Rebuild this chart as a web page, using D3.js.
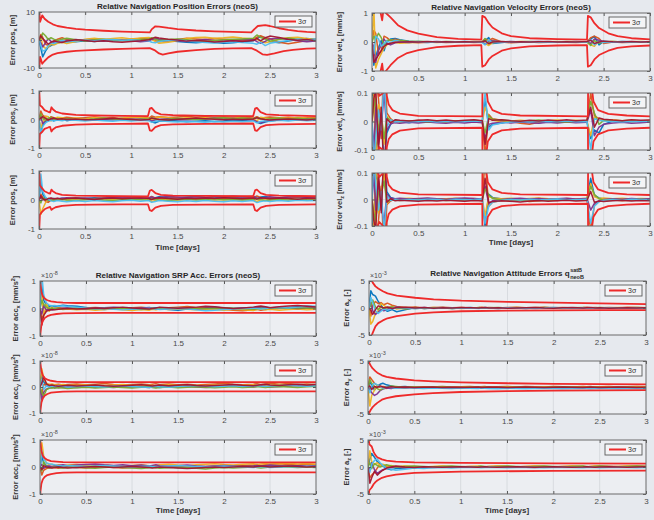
<!DOCTYPE html>
<html><head><meta charset="utf-8">
<script src="https://cdn.jsdelivr.net/npm/d3@7"></script>
<style>
html,body{margin:0;padding:0;background:#e6e9ee;}
svg{display:block;font-family:"Liberation Sans",Arial,sans-serif;}
</style></head><body>
<svg id="chart" width="654" height="520"></svg>
<script>
// ---------------- DATA ----------------
const xTicks = [0, 0.5, 1, 1.5, 2, 2.5, 3];
const tRun = [0,0.02,0.04,0.07,0.1,0.13,0.16,0.2,0.25,0.3,0.4,0.5,0.6,0.7,0.8,0.9,1.0,1.1,1.19,1.22,1.26,1.3,1.4,1.5,1.6,1.7,1.8,1.9,2.0,2.1,2.2,2.32,2.36,2.4,2.45,2.5,2.6,2.7,2.8,2.9,3.0];

const yTicksPosX = [-10, 0, 10];
const yTicksPos = [-1, 0, 1];
const yTicksVelX = [-1, 0, 1];
const yTicksVel = [-0.1, 0, 0.1];
const yTicksAcc = [-1, 0, 1];
const yTicksAtt = [-5, 0, 5];

// Position x [m]
const posX_runs = [
[0,-3,-6,-4,-2.5,-2,-1.5,-1,-0.8,-0.5,-0.6,-0.3,-0.5,-0.2,-0.4,-0.1,0.2,0.3,0.1,0.4,0.6,0.2,-0.2,-0.5,-0.8,-1.0,-0.7,-0.9,-1.2,-1.0,-0.6,-0.3,0.5,1.2,0.8,-0.5,-1.0,-0.4,0.2,0.5,0.3],
[0,2,1,-1.5,-2,-1.2,-0.5,0.3,0.8,0.2,-0.3,0.1,0.4,0.2,-0.2,0.1,0.3,0.5,0.6,0.3,-0.3,-0.6,-0.4,0.2,0.6,0.4,0.2,0.5,0.3,0.1,-0.2,0.2,1.0,1.5,0.8,0.5,-0.8,-1.3,-0.8,-0.2,0.1],
[0,1,-2,-3,-2.5,-1.5,-1.8,-1.2,-0.8,-1.3,-0.5,0.3,0.6,0.2,0.5,0.8,0.4,0.7,0.9,0.2,-0.5,-1.2,-0.8,-0.3,0.5,0.9,1.0,0.6,0.8,1.1,0.7,0.4,0.2,-0.4,-1.0,-0.6,0.4,0.8,1.0,0.5,0.2],
[0,-1,-2.5,-1,0.5,-0.5,-0.8,-0.4,-0.6,-0.2,0.2,-0.3,-0.1,-0.4,0.1,-0.2,-0.3,-0.6,-0.4,0.2,0.5,0.3,0.1,-0.3,-0.5,-0.2,0.2,-0.2,-0.4,-0.2,0.1,0.3,-0.6,-1.2,-0.5,0.4,0.6,0.2,-0.3,-0.6,-0.4],
[0,0.5,2.5,1.5,0.2,0.8,0.3,-0.2,0.3,0.6,0.1,-0.4,0.1,0.3,0.0,-0.3,-0.1,0.2,0.4,0.8,0.3,-0.2,0.2,0.4,0.1,-0.3,-0.5,-0.2,0.1,0.3,0.4,0.6,1.8,0.9,0.3,-0.4,0.2,0.7,0.3,0.0,-0.2],
[0,-2,-4,-3.5,-2,-1,-1.3,-0.8,-0.2,-0.6,-0.4,0.0,-0.3,0.1,0.2,-0.1,0.1,-0.2,-0.3,-0.8,-1.0,-0.5,-0.2,0.0,-0.3,-0.6,-0.9,-1.1,-0.8,-0.6,-0.9,-1.2,-1.5,-0.8,-2.0,-1.2,-0.6,-0.2,0.3,-0.1,0.4],
[0,1.5,0.5,-0.5,-1.5,-0.8,-0.3,-0.6,-0.9,-0.4,0.1,-0.2,-0.5,-0.3,-0.6,-0.8,-0.5,-0.3,0.1,0.5,1.0,0.7,0.3,0.0,-0.4,-0.2,-0.4,-0.7,-0.5,-0.3,-0.5,-0.2,0.6,-0.3,0.8,1.4,0.9,0.3,-0.1,0.2,-0.3]
];
const posX_sigUp = [[0,12],[0.012,6.5],[0.035,8.8],[0.06,7.6],[0.1,6.5],[0.15,5.6],[0.2,5.0],[0.3,4.4],[0.4,4.0],[0.5,3.7],[0.7,3.3],[0.9,3.0],[1.1,2.8],[1.2,2.7],[1.22,3.8],[1.26,4.9],[1.3,4.8],[1.4,4.3],[1.5,3.9],[1.7,3.4],[1.9,3.1],[2.1,2.9],[2.3,2.7],[2.33,3.8],[2.37,5.0],[2.45,5.3],[2.5,5.0],[2.6,4.2],[2.7,3.6],[2.8,3.2],[2.9,2.9],[3.0,2.7]];
const posX_sigLo = [[0,-12],[0.012,-6],[0.035,-8.5],[0.06,-7.5],[0.1,-6.2],[0.15,-5.2],[0.2,-4.7],[0.3,-4.2],[0.4,-3.9],[0.5,-3.7],[0.7,-3.4],[0.9,-3.2],[1.1,-3.0],[1.2,-2.9],[1.25,-3.6],[1.3,-4.8],[1.34,-5.2],[1.4,-4.8],[1.5,-4.2],[1.7,-3.6],[1.9,-3.2],[2.1,-3.0],[2.3,-2.9],[2.36,-3.8],[2.42,-5.1],[2.47,-5.3],[2.55,-4.8],[2.65,-4.0],[2.75,-3.5],[2.9,-3.1],[3.0,-3.0]];

// Position y [m]
const posY_runs = [
[0,-0.45,-0.2,-0.1,0.05,0.02,-0.05,0.03,0.0,-0.04,0.02,0.05,0.01,-0.03,0.0,0.04,0.02,-0.02,0.0,-0.08,-0.12,-0.06,-0.03,-0.05,-0.08,-0.06,-0.04,-0.07,-0.05,-0.02,-0.04,0.0,-0.1,-0.14,-0.09,-0.05,-0.02,0.0,0.03,0.01,0.02],
[0,0.3,0.15,0.08,-0.05,0.1,0.06,0.02,0.05,0.08,0.04,0.06,0.09,0.05,0.07,0.03,0.06,0.08,0.05,0.12,0.08,0.1,0.07,0.09,0.11,0.08,0.1,0.07,0.09,0.06,0.08,0.05,0.1,0.04,0.07,0.09,0.06,0.08,0.05,0.07,0.06],
[0,-0.3,-0.1,0.12,0.1,-0.05,0.03,0.08,0.06,0.02,0.05,0.03,0.07,0.04,0.02,0.05,0.08,0.06,0.04,0.0,0.05,0.09,0.06,0.03,0.06,0.04,0.07,0.05,0.03,0.06,0.04,0.02,-0.05,0.08,0.05,0.03,0.06,0.04,0.07,0.05,0.04],
[0,0.1,-0.15,-0.05,0.0,-0.02,0.02,-0.03,-0.01,0.01,-0.02,0.0,-0.03,0.01,-0.01,-0.03,0.0,0.02,-0.01,-0.05,-0.02,0.01,0.03,0.0,-0.02,0.01,0.03,0.05,0.02,0.04,0.01,-0.02,-0.08,-0.12,-0.06,-0.03,0.0,-0.02,0.01,0.03,0.0],
[0,0.2,0.05,-0.03,0.04,0.08,0.0,0.04,-0.02,0.03,0.0,-0.02,0.02,0.05,0.02,0.0,-0.02,0.01,0.03,0.06,0.02,-0.01,0.01,0.04,0.02,0.0,0.02,0.04,0.06,0.03,0.05,0.03,0.07,0.02,0.0,0.03,0.05,0.02,0.04,0.02,0.03],
[0,-0.5,-0.25,-0.12,-0.06,-0.03,-0.05,-0.02,-0.04,-0.01,-0.03,-0.05,-0.02,-0.04,-0.06,-0.03,-0.05,-0.03,-0.04,-0.1,-0.06,-0.04,-0.07,-0.09,-0.06,-0.08,-0.1,-0.07,-0.09,-0.06,-0.08,-0.05,-0.12,-0.07,-0.04,-0.06,-0.03,-0.05,-0.02,-0.04,-0.03],
[0,0.05,0.1,0.04,-0.02,0.03,0.05,0.01,0.03,0.0,0.02,-0.01,0.0,0.02,0.04,0.02,0.0,-0.02,0.0,0.05,0.03,0.0,-0.02,0.01,0.03,0.05,0.03,0.01,-0.01,0.01,0.0,0.02,0.06,0.03,0.0,-0.02,0.0,0.02,0.0,-0.02,0.01]
];
const posY_sigUp = [[0,1.2],[0.01,0.5],[0.03,0.45],[0.06,0.33],[0.1,0.27],[0.12,0.25],[0.135,0.43],[0.15,0.36],[0.18,0.28],[0.25,0.21],[0.4,0.16],[0.6,0.14],[0.9,0.13],[1.18,0.12],[1.2,0.38],[1.22,0.41],[1.26,0.26],[1.32,0.18],[1.45,0.15],[1.8,0.13],[2.32,0.12],[2.34,0.38],[2.36,0.41],[2.4,0.26],[2.46,0.18],[2.6,0.15],[3.0,0.12]];
const posY_sigLo = [[0,-1.2],[0.01,-0.5],[0.03,-0.45],[0.06,-0.33],[0.1,-0.28],[0.12,-0.26],[0.135,-0.42],[0.15,-0.35],[0.18,-0.28],[0.25,-0.22],[0.4,-0.18],[0.6,-0.16],[0.9,-0.15],[1.18,-0.14],[1.2,-0.38],[1.22,-0.4],[1.26,-0.27],[1.32,-0.2],[1.45,-0.17],[1.8,-0.15],[2.32,-0.14],[2.34,-0.38],[2.36,-0.4],[2.4,-0.27],[2.46,-0.2],[2.6,-0.17],[3.0,-0.15]];

// Position z [m]
const posZ_runs = [
[0,0.6,0.2,0.05,-0.03,0.02,0.05,0.03,0.06,0.04,0.07,0.05,0.08,0.06,0.09,0.07,0.1,0.08,0.06,0.03,0.08,0.11,0.09,0.07,0.1,0.12,0.09,0.07,0.1,0.08,0.11,0.09,0.04,0.1,0.12,0.09,0.07,0.1,0.08,0.11,0.09],
[0,0.2,0.1,-0.05,-0.08,0.0,0.03,0.05,0.02,0.04,0.06,0.03,0.05,0.07,0.04,0.06,0.08,0.05,0.07,0.12,0.06,0.04,0.06,0.08,0.05,0.07,0.09,0.06,0.04,0.07,0.05,0.08,0.14,0.09,0.06,0.08,0.05,0.07,0.1,0.08,0.1],
[0,-0.5,-0.3,-0.1,0.05,0.03,0.0,0.02,0.04,0.01,0.03,0.05,0.02,0.0,0.03,0.05,0.02,0.04,0.02,-0.05,-0.02,0.01,0.03,0.0,0.02,0.04,0.01,-0.01,0.02,0.0,0.02,0.0,-0.06,0.02,0.04,0.01,0.03,0.05,0.02,0.0,0.02],
[0,0.1,0.0,0.06,0.03,0.05,0.02,0.04,0.06,0.08,0.05,0.07,0.04,0.06,0.08,0.1,0.07,0.05,0.08,0.1,0.07,0.09,0.12,0.1,0.08,0.11,0.09,0.12,0.1,0.13,0.1,0.12,0.08,0.05,0.09,0.11,0.08,0.1,0.12,0.09,0.11],
[0,-0.1,0.08,0.04,0.0,-0.02,0.01,-0.01,0.02,0.0,-0.02,0.01,0.03,0.0,-0.02,0.01,0.03,0.01,-0.01,0.04,0.02,0.0,-0.02,0.01,0.03,0.0,0.02,0.04,0.01,0.03,0.0,0.02,0.05,0.01,-0.02,0.0,0.02,0.0,0.03,0.01,0.0],
[0,0.9,0.3,0.1,0.02,-0.03,-0.05,-0.02,-0.04,-0.06,-0.03,-0.05,-0.02,-0.04,-0.06,-0.03,-0.01,-0.04,-0.02,-0.08,-0.05,-0.02,-0.04,-0.06,-0.03,-0.05,-0.02,-0.04,-0.06,-0.03,-0.05,-0.02,-0.09,-0.05,-0.03,-0.05,-0.02,-0.04,-0.01,-0.03,-0.02],
[0,0.15,0.05,0.0,0.05,0.07,0.04,0.06,0.03,0.05,0.07,0.04,0.02,0.05,0.07,0.04,0.06,0.08,0.05,0.02,0.06,0.08,0.05,0.03,0.06,0.04,0.07,0.05,0.08,0.06,0.04,0.07,0.03,0.08,0.06,0.04,0.07,0.05,0.03,0.06,0.05]
];
const posZ_sigUp = [[0,1.2],[0.01,0.5],[0.03,0.42],[0.06,0.3],[0.1,0.24],[0.12,0.22],[0.135,0.36],[0.15,0.3],[0.18,0.24],[0.25,0.18],[0.4,0.15],[0.6,0.14],[0.9,0.13],[1.18,0.12],[1.2,0.32],[1.22,0.35],[1.26,0.24],[1.32,0.18],[1.45,0.15],[1.8,0.14],[2.32,0.13],[2.34,0.33],[2.36,0.36],[2.4,0.24],[2.46,0.18],[2.6,0.15],[3.0,0.13]];
const posZ_sigLo = [[0,-1.2],[0.01,-0.5],[0.03,-0.42],[0.06,-0.32],[0.1,-0.26],[0.12,-0.24],[0.135,-0.34],[0.15,-0.3],[0.18,-0.25],[0.25,-0.2],[0.4,-0.17],[0.6,-0.16],[0.9,-0.15],[1.18,-0.15],[1.2,-0.35],[1.22,-0.38],[1.26,-0.26],[1.32,-0.2],[1.45,-0.17],[1.8,-0.16],[2.32,-0.15],[2.34,-0.35],[2.36,-0.38],[2.4,-0.26],[2.46,-0.2],[2.6,-0.17],[3.0,-0.15]];

// Velocity x [mm/s]
const velX_runs = [
[0,-0.8,-0.5,-0.2,0.05,-0.3,0.0,0.1,0.12,0.08,0.03,0.0,-0.02,0.01,-0.01,0.0,0.02,0.0,-0.01,0.05,0.15,-0.05,-0.02,0.01,0.0,-0.01,0.01,0.0,-0.01,0.01,0.0,-0.01,0.1,0.2,-0.1,0.03,0.0,0.02,0.01,0.0,0.01],
[0,0.4,0.3,-0.4,-0.3,0.2,0.15,0.05,0.1,0.05,0.0,-0.03,-0.01,0.0,-0.02,-0.01,0.0,-0.02,-0.01,0.1,0.05,0.12,0.0,-0.03,-0.01,0.0,-0.02,-0.01,0.0,-0.01,-0.02,0.0,0.15,0.2,0.12,-0.05,0.0,-0.02,-0.01,0.0,-0.01],
[0,1.2,-0.9,-0.6,-0.4,-0.2,-0.1,-0.05,-0.02,-0.04,-0.03,-0.01,0.0,-0.02,0.0,-0.01,0.0,0.01,0.0,-0.05,-0.12,-0.03,0.01,0.0,0.02,0.01,0.0,0.01,0.02,0.0,0.01,0.0,-0.1,-0.15,0.05,0.0,0.02,0.0,0.01,0.02,0.0],
[0,-0.2,-0.7,-0.3,-0.1,0.1,-0.05,-0.1,-0.03,0.0,-0.02,0.01,0.0,0.02,0.0,0.01,-0.01,0.0,0.01,-0.08,0.03,0.05,0.0,0.02,0.0,0.01,0.02,0.0,0.01,0.0,0.02,0.0,-0.05,0.1,0.06,0.02,0.0,0.01,-0.01,0.0,0.0],
[0,0.2,0.1,0.3,0.15,-0.1,0.05,0.08,0.04,0.06,0.02,0.03,0.01,0.0,0.02,0.01,0.0,0.02,0.01,0.12,-0.05,0.02,0.01,0.0,0.01,0.02,0.0,0.01,0.0,0.02,0.01,0.0,-0.12,0.05,-0.04,0.01,0.02,0.0,0.01,0.0,0.01],
[0,-0.4,0.2,0.1,-0.15,-0.05,0.03,-0.02,0.06,0.02,0.0,0.02,0.0,-0.01,0.01,0.0,-0.01,0.0,-0.02,-0.1,0.08,-0.02,0.0,-0.01,0.0,0.01,-0.01,0.0,-0.01,0.0,-0.01,0.0,0.08,-0.1,0.02,-0.02,0.0,-0.01,0.0,0.01,0.0],
[0,-0.7,-0.6,-0.45,-0.3,-0.15,-0.08,-0.04,-0.01,0.0,0.01,0.0,0.02,0.0,0.01,0.0,0.01,0.0,0.01,0.04,-0.06,0.0,0.02,0.0,0.01,0.0,0.01,0.02,0.0,0.01,0.0,0.02,0.06,-0.05,0.0,0.03,0.01,0.0,0.02,0.0,0.01]
];
const velX_sigUp = [[0,3],[0.09,1.05],[0.11,0.75],[0.13,1.3],[0.15,1.0],[0.2,0.85],[0.28,0.58],[0.38,0.4],[0.5,0.29],[0.7,0.17],[0.93,0.11],[1.18,0.08],[1.19,0.9],[1.22,0.85],[1.26,0.65],[1.3,0.5],[1.4,0.3],[1.5,0.2],[1.7,0.13],[2.0,0.1],[2.32,0.08],[2.33,0.9],[2.36,0.85],[2.4,0.65],[2.45,0.48],[2.55,0.3],[2.65,0.2],[2.8,0.13],[3.0,0.09]];
const velX_sigLo = [[0,-3],[0.09,-1.05],[0.11,-0.75],[0.13,-1.3],[0.15,-1.0],[0.2,-0.8],[0.28,-0.55],[0.38,-0.38],[0.5,-0.28],[0.7,-0.18],[0.93,-0.13],[1.18,-0.11],[1.19,-0.85],[1.22,-0.8],[1.26,-0.6],[1.3,-0.48],[1.4,-0.3],[1.5,-0.22],[1.7,-0.15],[2.0,-0.12],[2.32,-0.11],[2.33,-0.85],[2.36,-0.8],[2.4,-0.6],[2.45,-0.45],[2.55,-0.3],[2.65,-0.2],[2.8,-0.15],[3.0,-0.12]];

// Velocity y [mm/s]
const velY_runs = [
[0,0.2,-0.1,-0.05,0.03,-0.15,-0.04,-0.01,0.005,0.0,-0.004,0.002,-0.003,0.001,-0.002,0.003,0.0,-0.003,0.002,0.08,-0.02,-0.01,-0.005,0.002,-0.003,0.001,-0.004,0.0,-0.002,0.003,0.0,-0.002,-0.06,-0.03,-0.04,-0.01,0.002,-0.003,0.0,0.002,-0.001],
[0,-0.3,0.15,0.08,-0.06,0.25,0.03,0.01,-0.004,0.003,0.0,0.004,0.001,-0.002,0.003,0.0,0.002,-0.001,0.0,-0.12,0.025,0.01,0.004,0.0,-0.006,-0.01,-0.003,0.002,0.0,0.003,0.001,0.0,0.1,0.02,0.01,0.005,0.002,0.0,0.003,0.001,0.002],
[0,0.12,-0.2,0.06,0.04,-0.08,0.02,-0.006,0.003,-0.002,0.002,-0.001,0.003,0.0,-0.002,0.001,0.003,0.0,-0.002,0.05,0.015,0.005,-0.002,0.002,0.004,0.002,0.0,0.003,0.005,0.002,0.004,0.001,-0.05,0.015,0.008,0.004,0.006,0.003,0.005,0.002,0.004],
[0,-0.1,0.05,-0.08,-0.02,0.1,-0.03,-0.008,-0.004,-0.006,-0.003,-0.005,-0.002,-0.004,-0.006,-0.003,-0.005,-0.002,-0.004,-0.06,-0.01,-0.006,-0.003,-0.005,-0.002,-0.004,-0.006,-0.003,-0.005,-0.002,-0.004,-0.003,0.04,-0.05,-0.02,-0.01,-0.005,-0.003,-0.006,-0.004,-0.002],
[0,0.05,0.08,-0.03,0.02,-0.06,0.015,0.004,0.002,0.0,0.003,0.001,-0.001,0.002,0.0,0.003,0.001,0.004,0.002,-0.04,0.02,0.008,0.004,0.002,0.0,0.003,0.005,0.002,0.0,-0.002,0.001,0.003,0.07,0.03,-0.01,0.004,0.001,0.003,0.0,0.002,0.001],
[0,-0.15,-0.06,0.04,-0.03,0.15,-0.02,0.006,-0.002,0.001,-0.001,0.0,0.002,-0.002,0.001,-0.001,0.0,0.002,0.0,0.1,-0.03,-0.012,-0.005,-0.002,0.0,-0.002,0.001,-0.001,0.0,0.002,-0.001,0.0,-0.1,0.01,0.005,0.002,0.0,-0.002,0.001,0.0,0.001],
[0,0.08,0.12,-0.1,0.05,-0.2,0.01,-0.004,0.006,0.004,0.002,0.004,0.006,0.003,0.005,0.002,0.004,0.006,0.003,-0.08,0.01,0.004,0.006,0.003,0.001,0.004,0.002,0.005,0.003,0.006,0.003,0.005,0.05,-0.02,0.012,0.008,0.005,0.003,0.006,0.004,0.005]
];
const velY_sigUp = [[0,1],[0.02,0.2],[0.05,0.12],[0.08,0.09],[0.12,0.1],[0.13,0.5],[0.14,0.2],[0.16,0.09],[0.18,0.06],[0.22,0.04],[0.3,0.028],[0.5,0.02],[1.19,0.018],[1.2,0.5],[1.22,0.15],[1.25,0.07],[1.3,0.04],[1.4,0.027],[1.6,0.021],[2.33,0.018],[2.34,0.5],[2.36,0.15],[2.39,0.07],[2.44,0.04],[2.55,0.027],[2.75,0.021],[3.0,0.018]];
const velY_sigLo = [[0,-1],[0.02,-0.2],[0.05,-0.12],[0.08,-0.09],[0.12,-0.1],[0.13,-0.5],[0.14,-0.2],[0.16,-0.09],[0.18,-0.062],[0.22,-0.045],[0.3,-0.032],[0.5,-0.024],[1.19,-0.022],[1.2,-0.5],[1.22,-0.15],[1.25,-0.07],[1.3,-0.045],[1.4,-0.031],[1.6,-0.025],[2.33,-0.022],[2.34,-0.5],[2.36,-0.15],[2.39,-0.07],[2.44,-0.045],[2.55,-0.031],[2.75,-0.025],[3.0,-0.022]];

// Velocity z [mm/s]
const velZ_runs = [
[0,-0.25,0.1,0.06,-0.04,0.18,0.03,0.008,0.002,-0.003,0.001,-0.002,0.0,0.003,0.001,-0.001,0.002,0.0,0.001,-0.1,0.02,0.008,0.002,-0.001,0.001,0.003,0.0,0.002,-0.001,0.001,0.0,0.002,0.08,0.015,0.006,0.002,0.0,0.003,0.001,0.0,0.002],
[0,0.3,-0.15,-0.08,0.05,-0.22,-0.02,-0.006,0.003,0.0,-0.002,0.001,-0.003,-0.001,0.001,-0.002,-0.004,-0.002,0.0,0.15,-0.025,-0.01,-0.004,-0.006,-0.003,-0.008,-0.005,-0.002,-0.004,-0.001,-0.003,0.0,-0.12,-0.02,-0.008,-0.004,-0.002,-0.005,-0.003,-0.001,-0.003],
[0,-0.1,0.2,-0.05,0.03,0.1,-0.015,0.004,0.0,0.003,0.005,0.002,0.004,0.001,0.003,0.005,0.002,0.004,0.001,-0.06,0.012,0.006,0.003,0.005,0.002,0.004,0.006,0.003,0.001,0.004,0.002,0.005,0.06,0.01,0.004,0.006,0.003,0.005,0.002,0.004,0.003],
[0,0.1,-0.04,0.07,-0.02,-0.09,0.02,0.006,0.003,0.005,0.002,0.004,0.006,0.003,0.001,0.004,0.006,0.004,0.002,0.05,-0.015,-0.005,0.0,0.003,0.005,0.002,0.004,0.001,0.003,0.005,0.002,0.004,-0.04,-0.015,-0.005,0.0,0.003,0.001,0.004,0.002,0.003],
[0,-0.05,-0.08,0.03,0.02,0.07,-0.01,-0.003,-0.001,-0.004,-0.002,0.0,-0.003,-0.001,-0.004,-0.002,0.0,-0.003,-0.001,0.04,0.018,0.004,-0.002,0.0,-0.003,-0.001,-0.004,-0.002,0.0,-0.003,-0.001,-0.003,0.05,0.02,0.003,-0.002,0.0,-0.003,-0.001,0.001,-0.002],
[0,0.15,0.06,-0.04,0.03,-0.12,0.015,-0.004,0.001,-0.001,0.0,-0.002,0.001,0.0,-0.002,0.001,-0.001,0.0,0.002,-0.09,-0.025,-0.01,-0.003,0.0,-0.002,0.001,-0.001,0.0,0.002,0.0,-0.001,0.001,-0.09,-0.025,-0.008,-0.003,0.0,-0.002,0.001,0.0,-0.001],
[0,-0.08,-0.12,0.1,-0.05,0.2,-0.01,0.003,-0.005,-0.003,-0.005,-0.007,-0.004,-0.006,-0.003,-0.005,-0.007,-0.004,-0.006,0.08,-0.012,-0.008,-0.005,-0.007,-0.009,-0.006,-0.004,-0.007,-0.005,-0.003,-0.006,-0.004,0.03,-0.01,-0.006,-0.008,-0.005,-0.003,-0.006,-0.004,-0.005]
];
const velZ_sigUp = [[0,1],[0.02,0.2],[0.05,0.11],[0.08,0.085],[0.12,0.1],[0.13,0.5],[0.14,0.2],[0.16,0.085],[0.18,0.055],[0.22,0.038],[0.3,0.026],[0.5,0.019],[1.19,0.017],[1.2,0.5],[1.22,0.14],[1.25,0.065],[1.3,0.038],[1.4,0.025],[1.6,0.019],[2.33,0.017],[2.34,0.5],[2.36,0.14],[2.39,0.065],[2.44,0.038],[2.55,0.025],[2.75,0.019],[3.0,0.017]];
const velZ_sigLo = [[0,-1],[0.02,-0.2],[0.05,-0.11],[0.08,-0.085],[0.12,-0.1],[0.13,-0.5],[0.14,-0.2],[0.16,-0.085],[0.18,-0.055],[0.22,-0.038],[0.3,-0.026],[0.5,-0.019],[1.19,-0.016],[1.2,-0.5],[1.22,-0.14],[1.25,-0.065],[1.3,-0.038],[1.4,-0.025],[1.6,-0.019],[2.33,-0.016],[2.34,-0.5],[2.36,-0.14],[2.39,-0.065],[2.44,-0.038],[2.55,-0.025],[2.75,-0.019],[3.0,-0.016]];

// SRP acceleration x [1e-8 mm/s^2]
const accX_runs = [
[0,0.8,0.3,0.12,0.08,0.1,0.06,0.09,0.12,0.1,0.08,0.04,-0.02,-0.04,-0.01,0.02,0.0,-0.03,-0.02,0.01,0.03,0.0,-0.04,-0.06,-0.02,0.01,0.03,0.05,0.02,0.0,0.02,0.04,0.03,0.06,0.05,0.03,0.01,0.04,0.06,0.08,0.07],
[0,-0.4,-0.2,-0.05,0.02,-0.03,0.0,0.03,0.01,-0.02,0.0,0.02,0.04,0.02,-0.01,0.01,0.03,0.05,0.02,0.0,-0.02,0.01,0.03,0.05,0.07,0.04,0.02,-0.01,-0.03,-0.06,-0.08,-0.05,-0.03,-0.06,-0.04,-0.02,0.0,0.02,-0.01,0.01,0.0],
[0,0.5,-0.3,0.2,-0.1,0.05,-0.03,0.0,-0.04,-0.02,-0.05,-0.03,-0.06,-0.04,-0.02,-0.05,-0.07,-0.04,-0.06,-0.03,-0.05,-0.02,-0.04,-0.01,-0.03,-0.05,-0.02,-0.04,-0.06,-0.03,-0.05,-0.07,-0.04,-0.02,-0.05,-0.03,-0.06,-0.04,-0.02,-0.05,-0.03],
[0,-0.2,0.1,-0.06,-0.02,-0.05,-0.03,-0.01,0.01,0.03,0.0,-0.02,0.01,0.03,0.05,0.02,0.0,0.02,0.04,0.01,-0.01,-0.03,0.0,0.02,0.0,-0.02,0.01,0.03,0.01,-0.01,0.01,0.03,0.05,0.03,0.01,0.03,0.05,0.02,0.0,0.02,0.04],
[0,0.3,0.15,0.05,0.0,0.02,-0.01,0.01,-0.02,0.0,0.02,0.0,-0.02,0.0,0.02,0.0,-0.02,-0.04,-0.01,0.01,-0.01,0.01,0.03,0.01,-0.01,0.01,-0.01,0.01,0.03,0.01,-0.01,-0.03,-0.01,0.01,-0.01,0.01,0.03,0.01,0.03,0.01,0.02],
[0,1.2,0.5,0.2,0.12,0.1,0.11,0.08,0.1,0.07,0.05,0.02,-0.01,0.0,-0.03,-0.05,-0.03,-0.01,0.01,0.0,-0.02,-0.04,-0.02,0.0,-0.02,-0.05,-0.08,-0.06,-0.04,-0.02,0.0,0.02,0.0,-0.02,0.0,0.02,0.04,0.02,0.05,0.08,0.06],
[0,-0.6,-0.25,-0.1,-0.06,-0.04,-0.05,-0.03,-0.01,0.0,-0.02,0.0,0.02,0.0,0.03,0.05,0.02,0.0,-0.02,0.0,0.02,0.05,0.03,0.01,0.03,0.05,0.08,0.06,0.03,0.0,0.02,0.05,0.07,0.09,0.06,0.03,0.06,0.09,0.11,0.08,0.05]
];
const accX_sigUp = [[0,1.5],[0.005,0.9],[0.015,0.6],[0.03,0.45],[0.05,0.36],[0.08,0.3],[0.12,0.26],[0.18,0.23],[0.25,0.21],[0.4,0.2],[0.7,0.2],[1.2,0.2],[2,0.2],[3,0.2]];
const accX_sigLo = [[0,-1.5],[0.005,-0.9],[0.015,-0.6],[0.03,-0.45],[0.05,-0.35],[0.08,-0.28],[0.12,-0.23],[0.18,-0.2],[0.25,-0.18],[0.4,-0.17],[0.7,-0.16],[1.2,-0.16],[2,-0.16],[3,-0.16]];

// SRP acceleration y
const accY_runs = [
[0,0.5,0.2,0.06,0.02,-0.02,0.01,0.03,0.0,0.02,0.04,0.01,-0.01,0.02,0.04,0.02,0.0,0.02,0.04,0.02,0.0,-0.02,0.01,0.03,0.05,0.03,0.01,0.03,0.05,0.07,0.05,0.03,0.05,0.07,0.09,0.06,0.04,0.06,0.08,0.05,0.07],
[0,-0.3,0.1,0.08,0.1,0.07,0.09,0.11,0.08,0.1,0.12,0.09,0.11,0.13,0.1,0.08,0.1,0.12,0.09,0.11,0.13,0.1,0.12,0.09,0.11,0.08,0.1,0.12,0.14,0.11,0.09,0.11,0.13,0.1,0.12,0.14,0.11,0.13,0.1,0.12,0.1],
[0,0.7,0.3,0.15,0.1,0.12,0.09,0.07,0.1,0.08,0.06,0.09,0.07,0.05,0.08,0.1,0.07,0.05,0.08,0.06,0.04,0.07,0.09,0.06,0.04,0.07,0.05,0.08,0.06,0.04,0.07,0.09,0.06,0.08,0.05,0.07,0.1,0.08,0.06,0.09,0.07],
[0,-0.5,-0.2,-0.08,-0.04,-0.02,0.0,-0.03,-0.01,0.01,-0.02,0.0,0.02,0.0,-0.02,0.01,0.03,0.0,-0.02,0.0,0.02,0.04,0.01,-0.01,0.02,0.0,-0.02,0.0,0.02,0.04,0.02,0.0,0.03,0.05,0.02,0.0,0.02,0.04,0.06,0.03,0.05],
[0,-0.2,-0.35,-0.1,-0.05,-0.03,-0.05,-0.02,-0.04,-0.06,-0.03,-0.01,-0.04,-0.02,0.0,-0.02,-0.04,-0.01,0.01,-0.02,-0.04,-0.02,0.0,-0.03,-0.01,0.01,-0.01,-0.03,-0.01,0.01,-0.02,0.0,0.02,0.0,-0.02,0.0,0.02,0.0,-0.02,0.01,0.03],
[0,0.3,-0.1,0.05,0.0,0.04,0.02,0.05,0.03,0.0,0.02,0.04,0.02,0.0,0.03,0.05,0.02,0.0,-0.02,0.01,0.03,0.01,-0.01,0.02,0.04,0.06,0.03,0.01,0.03,0.05,0.02,0.04,0.06,0.04,0.02,0.04,0.06,0.08,0.05,0.03,0.05],
[0,0.15,0.4,0.12,0.06,0.08,0.05,0.03,0.05,0.07,0.04,0.06,0.08,0.05,0.03,0.05,0.07,0.09,0.06,0.04,0.06,0.08,0.05,0.07,0.09,0.06,0.04,0.06,0.08,0.1,0.07,0.05,0.07,0.09,0.11,0.08,0.06,0.09,0.11,0.08,0.1]
];
const accY_sigUp = [[0,1.5],[0.005,0.9],[0.015,0.62],[0.03,0.45],[0.05,0.35],[0.08,0.28],[0.12,0.24],[0.18,0.21],[0.25,0.2],[0.4,0.19],[0.7,0.19],[1.2,0.19],[2,0.19],[3,0.19]];
const accY_sigLo = [[0,-1.5],[0.005,-0.9],[0.015,-0.6],[0.03,-0.44],[0.05,-0.34],[0.08,-0.27],[0.12,-0.22],[0.18,-0.2],[0.25,-0.18],[0.4,-0.17],[0.7,-0.17],[1.2,-0.17],[2,-0.17],[3,-0.17]];

// SRP acceleration z
const accZ_runs = [
[0,0.4,0.15,0.05,0.02,0.0,0.02,0.04,0.02,0.0,-0.02,0.01,0.03,0.01,-0.01,0.02,0.04,0.02,0.0,0.02,0.04,0.02,0.0,-0.02,0.01,0.03,0.01,-0.01,0.01,0.03,0.05,0.03,0.01,0.03,0.05,0.03,0.01,0.03,0.05,0.02,0.04],
[0,-0.3,-0.12,-0.06,-0.03,-0.01,-0.03,-0.05,-0.02,0.0,-0.02,-0.04,-0.01,0.01,-0.02,-0.04,-0.02,0.0,0.02,0.0,-0.02,0.0,0.02,0.04,0.02,0.0,0.02,0.04,0.06,0.03,0.05,0.07,0.09,0.06,0.08,0.1,0.12,0.09,0.07,0.1,0.08],
[0,0.9,0.4,0.15,0.08,0.1,0.06,0.08,0.05,0.07,0.09,0.06,0.04,0.07,0.05,0.03,0.06,0.08,0.05,0.03,0.06,0.08,0.1,0.07,0.05,0.08,0.1,0.12,0.09,0.07,0.1,0.12,0.09,0.11,0.13,0.1,0.12,0.14,0.11,0.13,0.1],
[0,0.1,-0.05,0.02,0.04,0.02,0.04,0.06,0.08,0.05,0.07,0.09,0.11,0.08,0.06,0.08,0.05,0.07,0.04,0.06,0.08,0.05,0.03,0.05,0.07,0.04,0.02,0.04,0.06,0.04,0.02,0.04,0.06,0.03,0.05,0.07,0.05,0.03,0.05,0.03,0.05],
[0,-0.15,0.2,0.0,-0.04,-0.02,0.0,-0.02,-0.04,-0.02,0.0,-0.03,-0.05,-0.02,0.0,-0.02,-0.04,-0.06,-0.03,-0.01,-0.03,-0.05,-0.03,-0.01,-0.03,-0.05,-0.07,-0.04,-0.02,-0.04,-0.02,0.0,-0.02,-0.04,-0.02,0.0,0.02,0.0,-0.02,0.0,-0.02],
[0,0.6,0.3,0.15,0.12,0.1,0.08,0.06,0.04,0.06,0.04,0.02,0.04,0.06,0.04,0.02,0.0,0.02,0.04,0.02,0.0,0.02,0.04,0.06,0.04,0.02,0.0,0.02,0.04,0.02,0.0,-0.02,0.0,0.02,0.0,-0.02,0.0,0.02,0.0,0.02,0.03],
[0,-0.1,0.05,0.0,-0.02,-0.04,-0.02,0.0,-0.02,-0.04,-0.02,0.0,0.02,0.0,-0.02,0.0,0.02,0.0,-0.02,-0.04,-0.02,0.0,-0.02,-0.04,-0.06,-0.04,-0.02,0.0,-0.02,0.0,0.02,0.0,0.02,0.04,0.02,0.0,0.02,0.04,0.02,0.0,0.02]
];
const accZ_sigUp = [[0,1.5],[0.005,0.9],[0.015,0.6],[0.03,0.42],[0.05,0.33],[0.08,0.26],[0.12,0.22],[0.18,0.2],[0.25,0.18],[0.4,0.17],[0.7,0.17],[1.2,0.17],[2,0.17],[3,0.17]];
const accZ_sigLo = [[0,-1.5],[0.005,-0.9],[0.015,-0.62],[0.03,-0.46],[0.05,-0.37],[0.08,-0.3],[0.12,-0.26],[0.18,-0.23],[0.25,-0.21],[0.4,-0.2],[0.7,-0.2],[1.2,-0.2],[2,-0.2],[3,-0.2]];

// Attitude a_x [1e-3]
const attX_runs = [
[0,3.2,2.5,2.2,1.2,0.5,-0.2,-0.6,-0.3,-0.7,-0.3,0.1,-0.1,0.0,0.1,-0.1,0.0,0.1,-0.05,0.0,0.1,0.0,-0.1,0.05,0.0,-0.1,0.05,0.0,0.1,0.0,-0.05,0.05,0.0,-0.05,0.05,0.0,0.05,-0.05,0.0,0.05,0.0],
[0,-1.5,0.5,1.2,0.8,1.0,0.6,0.9,0.5,0.3,0.1,0.2,0.0,0.1,0.15,0.05,0.1,0.0,0.1,0.15,0.05,0.1,0.0,0.1,0.15,0.05,0.1,0.15,0.05,0.1,0.0,0.1,0.15,0.05,0.1,0.0,0.1,0.05,0.15,0.1,0.05],
[0,-3.0,-2.5,-1.0,-0.5,0.8,0.5,0.0,0.3,-0.2,0.1,-0.1,0.0,0.1,-0.05,0.05,-0.1,0.0,0.05,-0.05,0.0,0.05,-0.05,0.0,0.1,0.0,-0.05,0.05,0.0,-0.1,0.0,0.05,-0.05,0.0,0.05,-0.05,0.0,0.1,0.0,-0.05,0.0],
[0,1.0,-0.5,-1.2,-0.8,-0.3,-0.5,-0.2,0.0,0.2,-0.1,0.0,0.1,-0.05,0.0,0.05,-0.05,0.0,0.05,0.0,-0.05,0.05,0.0,-0.05,0.0,0.05,0.0,-0.05,0.0,0.05,0.0,-0.05,0.0,0.05,0.0,-0.05,0.0,0.05,0.0,-0.05,0.0],
[0,0.5,1.5,0.2,-0.3,0.2,-0.2,0.1,0.2,0.0,-0.2,0.05,-0.1,0.05,0.0,-0.1,0.05,-0.05,0.1,0.0,-0.05,0.05,0.1,0.0,-0.05,0.05,0.0,0.1,0.0,-0.05,0.05,0.1,0.0,-0.05,0.05,0.1,0.05,0.0,0.05,0.1,0.05],
[0,2.0,1.0,-0.5,-1.0,-0.6,-0.2,-0.4,-0.1,0.1,0.0,-0.15,0.05,-0.1,0.0,0.05,-0.05,0.0,-0.1,0.0,0.05,-0.05,0.0,0.05,-0.05,0.0,-0.1,0.0,0.05,-0.05,0.0,0.05,-0.05,0.0,-0.05,0.05,0.0,-0.05,0.05,0.0,-0.05],
[0,-0.5,-1.2,-0.3,0.4,0.2,0.0,0.2,-0.1,0.1,0.15,0.0,0.1,-0.05,0.05,0.0,0.1,0.05,0.0,0.05,0.1,0.0,0.05,-0.05,0.0,0.05,0.1,0.0,-0.05,0.05,0.1,0.0,0.05,0.1,0.0,0.05,-0.05,0.0,0.05,0.0,0.05]
];
const attX_sigUp = [[0,7],[0.02,5.5],[0.04,4.7],[0.07,4.0],[0.1,3.6],[0.15,3.1],[0.2,2.7],[0.3,2.3],[0.5,1.9],[0.7,1.6],[1.0,1.35],[1.5,1.15],[2.0,1.0],[2.5,0.85],[3.0,0.72]];
const attX_sigLo = [[0,-7],[0.02,-5.5],[0.04,-4.6],[0.07,-3.4],[0.1,-2.8],[0.15,-2.3],[0.2,-1.9],[0.3,-1.5],[0.5,-1.05],[0.7,-0.8],[1.0,-0.6],[1.5,-0.5],[2.0,-0.45],[2.5,-0.4],[3.0,-0.38]];

// Attitude a_y [1e-3]
const attY_runs = [
[0,1.0,0.5,-0.5,0.3,0.6,0.8,0.5,0.3,0.1,0.2,0.0,0.1,-0.05,0.05,0.0,0.1,0.0,-0.05,0.05,0.0,-0.05,0.05,0.0,0.05,-0.05,0.0,0.05,0.0,-0.05,0.0,0.05,0.0,-0.05,0.0,0.05,0.0,-0.05,0.05,0.0,0.0],
[0,2.0,1.5,0.8,0.4,0.0,0.2,0.1,-0.1,0.0,0.1,0.05,0.15,0.1,0.2,0.1,0.15,0.2,0.1,0.15,0.2,0.1,0.15,0.2,0.1,0.2,0.15,0.1,0.2,0.15,0.1,0.2,0.15,0.2,0.1,0.15,0.2,0.1,0.15,0.2,0.15],
[0,-3.5,-1.5,-0.5,0.5,0.3,0.0,-0.2,0.1,0.0,-0.1,0.05,0.0,0.1,0.0,-0.05,0.05,0.1,0.0,0.05,0.1,0.05,0.0,0.1,0.05,0.0,0.1,0.05,0.0,0.05,0.1,0.0,0.05,0.1,0.05,0.0,0.05,0.1,0.0,0.05,0.1],
[0,-0.5,-1.0,-1.5,-1.2,-0.6,-0.3,-0.1,-0.2,0.0,-0.1,0.0,-0.05,0.0,-0.1,-0.05,0.0,-0.1,-0.05,0.0,-0.05,-0.1,0.0,-0.05,-0.1,-0.05,0.0,-0.05,-0.1,-0.05,0.0,-0.05,-0.1,0.0,-0.05,-0.1,-0.05,0.0,-0.05,-0.1,-0.05],
[0,1.5,0.8,0.2,-0.2,-0.5,-0.2,0.1,0.3,0.2,0.0,0.1,-0.05,0.05,0.1,0.0,-0.05,0.05,0.0,-0.05,0.05,0.0,-0.05,0.0,0.05,0.0,-0.05,0.0,0.05,0.1,0.05,0.0,-0.05,0.0,0.05,0.0,-0.05,0.0,0.05,0.0,-0.05],
[0,-1.0,0.3,0.8,0.5,0.2,-0.1,0.1,0.0,-0.15,0.0,-0.1,-0.2,-0.1,-0.15,-0.2,-0.1,-0.15,-0.2,-0.1,-0.15,-0.2,-0.25,-0.15,-0.2,-0.25,-0.2,-0.15,-0.2,-0.25,-0.2,-0.15,-0.2,-0.25,-0.2,-0.15,-0.2,-0.25,-0.2,-0.15,-0.2],
[0,0.3,-0.4,0.2,0.0,0.3,0.1,0.0,0.15,0.05,0.1,0.0,0.05,0.1,0.0,0.05,0.0,0.05,0.1,0.0,0.05,0.1,0.05,0.0,0.05,0.1,0.05,0.0,0.05,0.1,0.05,0.0,0.05,0.1,0.05,0.0,0.05,0.1,0.05,0.0,0.05]
];
const attY_sigUp = [[0,6],[0.015,4.6],[0.03,4.1],[0.05,3.6],[0.08,3.1],[0.1,2.8],[0.15,2.3],[0.2,2.0],[0.3,1.7],[0.5,1.35],[0.7,1.15],[1.0,0.95],[1.5,0.8],[2.0,0.7],[2.5,0.63],[3.0,0.58]];
const attY_sigLo = [[0,-6],[0.015,-4.7],[0.03,-4.2],[0.05,-3.7],[0.08,-3.2],[0.1,-2.9],[0.15,-2.3],[0.2,-2.0],[0.3,-1.65],[0.5,-1.3],[0.7,-1.05],[1.0,-0.85],[1.5,-0.7],[2.0,-0.6],[2.5,-0.55],[3.0,-0.5]];

// Attitude a_z [1e-3]
const attZ_runs = [
[0,1.5,2.5,1.8,1.0,0.6,0.2,-0.3,-0.5,-0.3,-0.2,0.0,-0.1,0.05,0.0,-0.05,0.05,0.0,-0.05,0.0,0.05,0.0,-0.05,0.0,0.05,0.0,-0.05,0.0,0.05,0.0,-0.05,0.0,0.05,0.0,-0.05,0.0,0.05,0.0,-0.05,0.0,0.05],
[0,-2.0,-1.5,-1.0,-0.2,0.5,0.3,0.1,-0.1,0.0,0.1,0.0,-0.05,0.05,0.1,0.0,0.05,0.1,0.05,0.0,0.05,0.1,0.15,0.1,0.05,0.1,0.15,0.1,0.05,0.1,0.15,0.1,0.05,0.1,0.15,0.2,0.15,0.1,0.15,0.2,0.15],
[0,3.0,1.0,0.5,0.8,0.3,0.5,0.2,0.3,0.1,0.2,0.1,0.0,0.1,0.2,0.1,0.0,0.1,0.2,0.1,0.0,0.1,0.2,0.1,0.0,0.1,0.2,0.1,0.0,0.1,0.2,0.1,0.0,0.1,0.2,0.1,0.0,0.1,0.2,0.1,0.0],
[0,-0.5,0.8,-0.5,-1.2,-0.8,-0.5,-0.3,-0.1,0.0,-0.15,-0.05,0.0,-0.1,0.0,0.05,0.0,-0.05,0.0,0.05,0.0,-0.05,0.0,0.05,0.0,-0.05,-0.1,0.0,0.05,0.0,-0.05,0.0,0.05,0.0,-0.05,0.0,0.05,0.0,-0.05,0.0,0.0],
[0,0.8,-0.3,0.6,0.3,0.0,0.2,0.4,0.2,0.0,0.1,0.2,0.1,0.0,0.1,0.2,0.1,0.0,0.1,0.2,0.1,0.0,0.1,0.2,0.1,0.0,0.1,0.2,0.1,0.0,0.1,0.2,0.1,0.0,0.1,0.2,0.1,0.0,0.1,0.2,0.1],
[0,-1.0,0.5,1.2,1.5,0.8,0.3,-0.2,-0.4,-0.6,-0.4,-0.2,-0.3,-0.15,-0.1,-0.2,-0.1,-0.05,-0.1,-0.15,-0.1,-0.05,-0.1,-0.15,-0.1,-0.05,-0.1,-0.15,-0.1,-0.05,-0.1,-0.15,-0.1,-0.05,-0.1,-0.15,-0.1,-0.05,-0.1,-0.15,-0.1],
[0,-3.0,-2.0,-0.8,-1.5,-1.0,-0.6,-0.2,0.0,0.2,0.0,-0.1,0.05,0.0,-0.05,0.0,0.05,0.0,-0.05,0.0,0.05,0.0,-0.05,0.0,0.05,0.0,-0.05,0.0,0.05,0.0,-0.05,0.0,0.05,0.0,-0.05,0.0,0.05,0.0,-0.05,0.0,0.05]
];
const attZ_sigUp = [[0,6],[0.015,4.2],[0.04,3.8],[0.06,2.8],[0.08,2.2],[0.1,1.8],[0.15,1.4],[0.2,1.2],[0.3,1.0],[0.5,0.85],[1.0,0.75],[2.0,0.68],[3.0,0.62]];
const attZ_sigLo = [[0,-6],[0.015,-4.3],[0.04,-3.8],[0.06,-3.2],[0.08,-2.8],[0.1,-2.5],[0.15,-2.0],[0.2,-1.75],[0.3,-1.4],[0.5,-1.1],[1.0,-0.85],[2.0,-0.72],[3.0,-0.66]];

// ---------------- STYLE / LAYOUT ----------------
const runColors = ['#0072BD','#D95319','#EDB120','#7E2F8E','#77AC30','#4DBEEE','#A2142F'];
const sigColor = '#ee2a2a';
const FIG_BG = '#e6e9ee', AX_BG = '#eceef2';

const panels = [
 {runs:posX_runs, up:posX_sigUp, lo:posX_sigLo, dom:[-10,10], ticks:yTicksPosX, lab:[['Error pos'],['x','sub'],[' [m]']], r:[39,316,12,68], lx:15},
 {runs:posY_runs, up:posY_sigUp, lo:posY_sigLo, dom:[-1,1], ticks:yTicksPos, lab:[['Error pos'],['y','sub'],[' [m]']], r:[39,316,91,148], lx:15},
 {runs:posZ_runs, up:posZ_sigUp, lo:posZ_sigLo, dom:[-1,1], ticks:yTicksPos, lab:[['Error pos'],['z','sub'],[' [m]']], r:[39,316,171,229], lx:15},
 {runs:velX_runs, up:velX_sigUp, lo:velX_sigLo, dom:[-1,1], ticks:yTicksVelX, lab:[['Error vel'],['x','sub'],[' [mm/s]']], r:[372,650,13,71], lx:342},
 {runs:velY_runs, up:velY_sigUp, lo:velY_sigLo, dom:[-0.1,0.1], ticks:yTicksVel, lab:[['Error vel'],['y','sub'],[' [mm/s]']], r:[372,650,93,150], lx:342},
 {runs:velZ_runs, up:velZ_sigUp, lo:velZ_sigLo, dom:[-0.1,0.1], ticks:yTicksVel, lab:[['Error vel'],['z','sub'],[' [mm/s]']], r:[372,650,173,226], lx:342},
 {runs:accX_runs, up:accX_sigUp, lo:accX_sigLo, dom:[-1,1], ticks:yTicksAcc, lab:[['Error acc'],['x','sub'],[' [mm/s'],['2','sup'],[']']], r:[40,316,281,336], lx:18, exp:'-8'},
 {runs:accY_runs, up:accY_sigUp, lo:accY_sigLo, dom:[-1,1], ticks:yTicksAcc, lab:[['Error acc'],['y','sub'],[' [mm/s'],['2','sup'],[']']], r:[40,316,361,413], lx:18, exp:'-8'},
 {runs:accZ_runs, up:accZ_sigUp, lo:accZ_sigLo, dom:[-1,1], ticks:yTicksAcc, lab:[['Error acc'],['z','sub'],[' [mm/s'],['2','sup'],[']']], r:[40,316,440,494], lx:18, exp:'-8'},
 {runs:attX_runs, up:attX_sigUp, lo:attX_sigLo, dom:[-5,5], ticks:yTicksAtt, lab:[['Error a'],['x','sub'],[' [-]']], r:[369,646,281,335], lx:349, exp:'-3'},
 {runs:attY_runs, up:attY_sigUp, lo:attY_sigLo, dom:[-5,5], ticks:yTicksAtt, lab:[['Error a'],['y','sub'],[' [-]']], r:[368,646,361,414], lx:349, exp:'-3'},
 {runs:attZ_runs, up:attZ_sigUp, lo:attZ_sigLo, dom:[-5,5], ticks:yTicksAtt, lab:[['Error a'],['z','sub'],[' [-]']], r:[368,646,440,494], lx:349, exp:'-3'}
];

const titles = [
 {text:'Relative Navigation Position Errors (neoS)', x:177.5, y:9},
 {text:'Relative Navigation Velocity Errors (neoS)', x:511, y:10},
 {text:'Relative Navigation SRP Acc. Errors (neoS)', x:178, y:278},
 {text:'Relative Navigation Attitude Errors q', x:500, y:276, sup:'satB', sub:'neoB'}
];
const timeLabels = [{x:177.5,y:250},{x:511,y:245},{x:178,y:513},{x:507,y:513}];

// ---------------- DRAW ----------------
const svg = d3.select('#chart');
svg.append('rect').attr('width',654).attr('height',520).attr('fill',FIG_BG);

panels.forEach((p,k)=>{
  const [x0,x1,y0,y1] = p.r;
  const x = d3.scaleLinear().domain([0,3]).range([x0,x1]);
  const y = d3.scaleLinear().domain(p.dom).range([y1,y0]);
  const g = svg.append('g');
  g.append('rect').attr('x',x0).attr('y',y0).attr('width',x1-x0).attr('height',y1-y0).attr('fill',AX_BG);
  g.selectAll('.gx').data(xTicks.filter(v=>v>0&&v<3)).join('line')
    .attr('x1',d=>x(d)).attr('x2',d=>x(d)).attr('y1',y0).attr('y2',y1)
    .attr('stroke','#d3d6db').attr('stroke-width',0.8);
  g.selectAll('.gy').data(p.ticks.filter(v=>v>p.dom[0]&&v<p.dom[1])).join('line')
    .attr('y1',d=>y(d)).attr('y2',d=>y(d)).attr('x1',x0).attr('x2',x1)
    .attr('stroke','#d3d6db').attr('stroke-width',0.8);
  const cid = 'clip'+k;
  svg.append('clipPath').attr('id',cid).append('rect').attr('x',x0).attr('y',y0).attr('width',x1-x0).attr('height',y1-y0);
  const pg = g.append('g').attr('clip-path',`url(#${cid})`);
  const line = d3.line().x(d=>x(d[0])).y(d=>y(d[1]));
  p.runs.forEach((r,i)=>{
    pg.append('path').datum(tRun.map((t,j)=>[t,r[j]])).attr('d',line)
      .attr('fill','none').attr('stroke',runColors[i%runColors.length]).attr('stroke-width',1.5)
      .attr('stroke-linejoin','round').attr('opacity',0.95);
  });
  [p.up,p.lo].forEach(s=>{
    pg.append('path').datum(s).attr('d',line).attr('fill','none')
      .attr('stroke',sigColor).attr('stroke-width',1.8).attr('stroke-linejoin','round');
  });
  const ax = g.append('g').attr('transform',`translate(0,${y1})`)
    .call(d3.axisBottom(x).tickValues(xTicks).tickSize(-3).tickPadding(4).tickFormat(d=>String(d)));
  const ay = g.append('g').attr('transform',`translate(${x0},0)`)
    .call(d3.axisLeft(y).tickValues(p.ticks).tickSize(-3).tickPadding(4).tickFormat(d=>String(d)));
  const at = g.append('g').attr('transform',`translate(0,${y0})`)
    .call(d3.axisTop(x).tickValues(xTicks).tickSize(-3).tickFormat(''));
  const ar = g.append('g').attr('transform',`translate(${x1},0)`)
    .call(d3.axisRight(y).tickValues(p.ticks).tickSize(-3).tickFormat(''));
  [ax,ay,at,ar].forEach(a=>{
    a.select('.domain').remove();
    a.selectAll('line').attr('stroke','#5a5a5a');
    a.selectAll('text').attr('fill','#4a4a4a').attr('font-size',8).attr('font-family','"Liberation Sans",Arial,sans-serif');
  });
  g.append('rect').attr('x',x0).attr('y',y0).attr('width',x1-x0).attr('height',y1-y0)
    .attr('fill','none').attr('stroke','#6a6a6a').attr('stroke-width',1);
  const cy = (y0+y1)/2;
  const lt = g.append('text').attr('transform',`translate(${p.lx},${cy}) rotate(-90)`)
    .attr('text-anchor','middle').attr('font-size',7.5).attr('font-weight','bold').attr('fill','#333');
  let shift = 0;
  p.lab.forEach(([s,kind])=>{
    const ts = lt.append('tspan').text(s);
    let target = 0;
    if(kind==='sub'){ ts.attr('font-size',5.5); target = 2; }
    else if(kind==='sup'){ ts.attr('font-size',5.5); target = -3; }
    if(target!==shift){ ts.attr('dy', target-shift); shift = target; }
  });
  if(p.exp){
    const et = g.append('text').attr('x',x0+1).attr('y',y0-3).attr('font-size',7).attr('fill','#4a4a4a');
    et.append('tspan').text('\u00d710');
    et.append('tspan').text(p.exp).attr('font-size',5.5).attr('dy',-3);
  }
  const lg = g.append('g').attr('transform',`translate(${x1-41},${y0+4})`);
  lg.append('rect').attr('width',37).attr('height',11).attr('fill','#f3f4f6').attr('stroke','#5a5a5a').attr('stroke-width',0.9);
  lg.append('line').attr('x1',4).attr('x2',21).attr('y1',5.5).attr('y2',5.5).attr('stroke',sigColor).attr('stroke-width',2);
  lg.append('text').attr('x',23).attr('y',8.3).attr('font-size',7).attr('fill','#333').text('3\u03c3');
});

titles.forEach(t=>{
  const tt = svg.append('text').attr('x',t.x).attr('y',t.y).attr('text-anchor','middle')
    .attr('font-size',8).attr('font-weight','bold').attr('fill','#262626').text(t.text);
  if(t.sup){
    const w = tt.node().getComputedTextLength();
    const xe = t.x + w/2 + 0.5;
    svg.append('text').attr('x',xe).attr('y',t.y-4).attr('font-size',5.5).attr('font-weight','bold').attr('fill','#262626').text(t.sup);
    svg.append('text').attr('x',xe).attr('y',t.y+2.5).attr('font-size',5.5).attr('font-weight','bold').attr('fill','#262626').text(t.sub);
  }
});
timeLabels.forEach(t=>{
  svg.append('text').attr('x',t.x).attr('y',t.y).attr('text-anchor','middle')
    .attr('font-size',8).attr('font-weight','bold').attr('fill','#333').text('Time [days]');
});
</script>
</body></html>
